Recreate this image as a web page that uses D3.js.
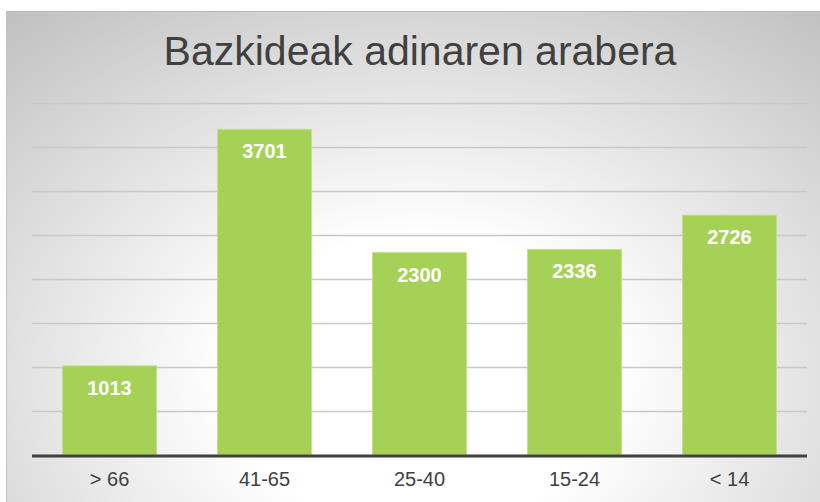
<!DOCTYPE html>
<html>
<head>
<meta charset="utf-8">
<script src="https://cdn.jsdelivr.net/npm/d3@7"></script>
<style>
  body { margin: 0; background: #fff; }
  svg { display: block; font-family: "Liberation Sans", Arial, sans-serif; }
</style>
</head>
<body>
<svg id="chart" width="820" height="502"></svg>
<script>
// data
const categories = ["> 66", "41-65", "25-40", "15-24", "< 14"];
const members = [1013, 3701, 2300, 2336, 2726];
const gridTicks = [0, 500, 1000, 1500, 2000, 2500, 3000, 3500, 4000];

const svg = d3.select("#chart");
const W = 820, H = 502;
const plot = { left: 32, right: 807, top: 103, bottom: 455 };

// background gradient
const defs = svg.append("defs");
const grad = defs.append("radialGradient")
  .attr("id", "bg")
  .attr("gradientUnits", "userSpaceOnUse")
  .attr("cx", 420).attr("cy", 380).attr("r", 640)
  .attr("gradientTransform", "translate(420,380) scale(1,0.75) translate(-420,-380)");
grad.append("stop").attr("offset", 0).attr("stop-color", "#ffffff");
grad.append("stop").attr("offset", 0.3).attr("stop-color", "#ffffff");
grad.append("stop").attr("offset", 1).attr("stop-color", "#c0c0c0");

svg.append("rect")
  .attr("x", 6).attr("y", 11)
  .attr("width", W - 6).attr("height", H - 11)
  .attr("fill", "url(#bg)");
// thin top / left edge
svg.append("line").attr("x1", 6).attr("x2", W).attr("y1", 11.5).attr("y2", 11.5)
  .attr("stroke", "#b8b8b8").attr("stroke-width", 1);
svg.append("line").attr("x1", 6.5).attr("x2", 6.5).attr("y1", 11).attr("y2", H)
  .attr("stroke", "#c4c4c4").attr("stroke-width", 1);

// title
svg.append("text")
  .attr("x", 420).attr("y", 65)
  .attr("text-anchor", "middle")
  .attr("font-size", 41)
  .attr("fill", "#404040")
  .text("Bazkideak adinaren arabera");

const x = d3.scaleBand()
  .domain(categories)
  .range([plot.left, plot.right])
  .paddingInner(0.394)
  .paddingOuter(0.197);

const y = d3.scaleLinear()
  .domain([0, 4000])
  .range([plot.bottom, plot.top]);

// gridlines
svg.append("g")
  .selectAll("line")
  .data(gridTicks.filter(d => d > 0))
  .join("line")
  .attr("x1", plot.left).attr("x2", plot.right)
  .attr("y1", d => Math.round(y(d)) + 0.5)
  .attr("y2", d => Math.round(y(d)) + 0.5)
  .attr("stroke", "#c8c8c8")
  .attr("stroke-width", 1.3);

// bars
svg.append("g")
  .selectAll("rect")
  .data(members)
  .join("rect")
  .attr("x", (d, i) => x(categories[i]))
  .attr("y", d => y(d))
  .attr("width", x.bandwidth())
  .attr("height", d => plot.bottom - y(d))
  .attr("fill", "#a6d157")
  .attr("stroke", "#c2e08a")
  .attr("stroke-width", 1);

// value labels
svg.append("g")
  .selectAll("text")
  .data(members)
  .join("text")
  .attr("x", (d, i) => x(categories[i]) + x.bandwidth() / 2)
  .attr("y", d => y(d) + 29)
  .attr("text-anchor", "middle")
  .attr("font-size", 20)
  .attr("font-weight", "bold")
  .attr("fill", "#ffffff")
  .text(d => d);

// baseline
svg.append("line")
  .attr("x1", plot.left).attr("x2", plot.right)
  .attr("y1", plot.bottom + 1).attr("y2", plot.bottom + 1)
  .attr("stroke", "#404040")
  .attr("stroke-width", 3);

// category labels
const xAxis = svg.append("g")
  .attr("transform", "translate(0," + (plot.bottom + 2) + ")")
  .call(d3.axisBottom(x).tickSize(0).tickPadding(15));
xAxis.select(".domain").remove();
xAxis.selectAll("text")
  .attr("font-size", 20)
  .attr("font-family", "Liberation Sans, Arial, sans-serif")
  .attr("fill", "#404040");
</script>
</body>
</html>
